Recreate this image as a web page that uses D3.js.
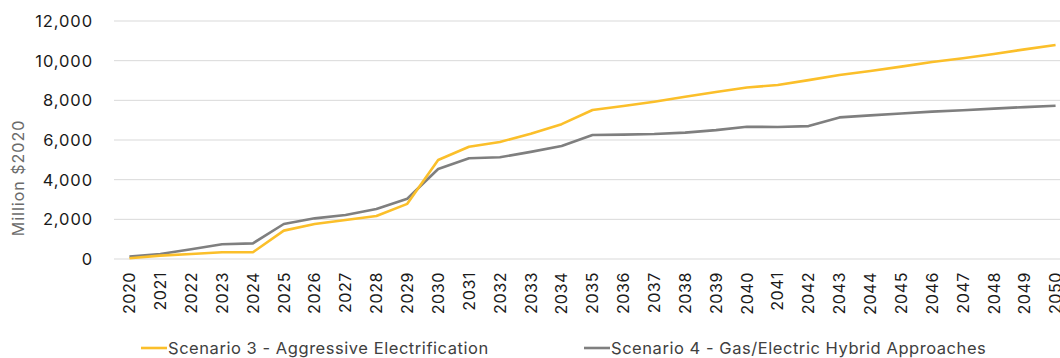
<!DOCTYPE html>
<html lang="en">
<head>
    <meta charset="UTF-8">
    <title>Scenario costs</title>
    <style>
        body {
            margin: 0;
            padding: 0;
            background-color: #ffffff;
            overflow: hidden;
        }
        svg {
            display: block;
            font-family: "Inter", "Roboto", sans-serif;
        }
    </style>
    <script src="https://d3js.org/d3.v7.min.js"></script>
</head>
<body>
    <script>
        const width = 1060;
        const height = 358;

        const years = d3.range(2020, 2051).map(String);

        const scenario3 = [
            35, 170, 250, 340, 340, 1430, 1765, 1970, 2170, 2780,
            4990, 5660, 5900, 6320, 6800, 7510, 7710, 7930, 8180, 8420,
            8650, 8770, 9020, 9280, 9480, 9700, 9930, 10120, 10340, 10570,
            10790
        ];
        const scenario4 = [
            120, 250, 490, 740, 790, 1765, 2050, 2220, 2520, 3040,
            4540, 5080, 5130, 5400, 5700, 6250, 6270, 6300, 6370, 6500,
            6670, 6655, 6700, 7140, 7240, 7340, 7430, 7500, 7580, 7660,
            7730
        ];
        const yTicks = [0, 2000, 4000, 6000, 8000, 10000, 12000];

        const seriesNames = [
            "Scenario 3 - Aggressive Electrification",
            "Scenario 4 - Gas/Electric Hybrid Approaches"
        ];
        const seriesColors = ["#fbbf2a", "#7f7f7f"];

        const svg = d3.select("body").append("svg")
            .attr("width", width)
            .attr("height", height);

        const x = d3.scaleBand()
            .domain(years)
            .range([114, 1071]);

        const y = d3.scaleLinear()
            .domain([0, 12000])
            .range([259, 21]);

        // gridlines
        svg.append("g")
            .selectAll("line")
            .data(yTicks)
            .enter().append("line")
            .attr("x1", 114)
            .attr("x2", width)
            .attr("y1", d => y(d))
            .attr("y2", d => y(d))
            .attr("stroke", "#d9d9d9")
            .attr("stroke-width", 1);

        // y tick labels
        svg.append("g")
            .selectAll("text")
            .data(yTicks)
            .enter().append("text")
            .attr("x", 93)
            .attr("y", d => y(d))
            .attr("dy", "0.36em")
            .attr("text-anchor", "end")
            .attr("fill", "#1a1a1a")
            .style("font-size", "16.5px")
            .style("letter-spacing", "0.9px")
            .text(d => d3.format(",")(d));

        // x tick labels
        svg.append("g")
            .selectAll("text")
            .data(years)
            .enter().append("text")
            .attr("transform", d => `translate(${x(d) + x.bandwidth() / 2},272) rotate(-90)`)
            .attr("dy", "0.36em")
            .attr("text-anchor", "end")
            .attr("fill", "#1a1a1a")
            .style("font-size", "16px")
            .style("letter-spacing", "0.6px")
            .text(d => d);

        // y axis title
        svg.append("text")
            .attr("transform", "translate(18,178) rotate(-90)")
            .attr("dy", "0.36em")
            .attr("text-anchor", "middle")
            .attr("fill", "#6b6b6b")
            .style("font-size", "16px")
            .style("letter-spacing", "1px")
            .text("Million $2020");

        const line = d3.line()
            .x((d, i) => x(years[i]) + x.bandwidth() / 2)
            .y(d => y(d));

        [scenario4, scenario3].forEach((s, k) => {
            svg.append("path")
                .datum(s)
                .attr("d", line)
                .attr("fill", "none")
                .attr("stroke", seriesColors[1 - k])
                .attr("stroke-width", 2.6)
                .attr("stroke-linejoin", "round");
        });

        // legend
        const legendX = [141, 584];
        seriesNames.forEach((name, i) => {
            const g = svg.append("g").attr("transform", `translate(${legendX[i]},348)`);
            g.append("line")
                .attr("x1", 0)
                .attr("x2", 26)
                .attr("stroke", seriesColors[i])
                .attr("stroke-width", 2.6);
            g.append("text")
                .attr("x", 27)
                .attr("dy", "0.36em")
                .attr("fill", "#404040")
                .style("font-size", "16.5px")
                .style("letter-spacing", "0.55px")
                .text(name);
        });
    </script>
</body>
</html>
